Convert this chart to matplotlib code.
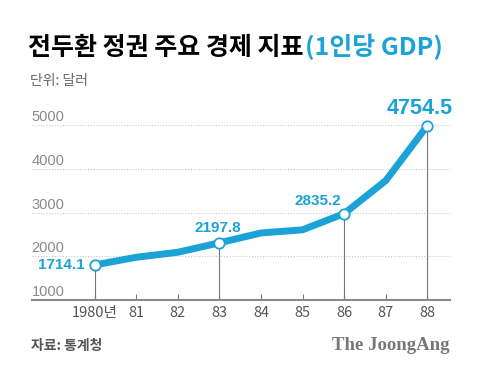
import matplotlib
matplotlib.use('Agg')
import matplotlib.pyplot as plt

# 1인당 GDP (달러), 1980-1988
years = ['1980년', '81', '82', '83', '84', '85', '86', '87', '88']
gdp = [1714.1, 1883.0, 1992.0, 2197.8, 2413.0, 2482.0, 2835.2, 3555.0, 4754.5]
labeled = [0, 3, 6, 8]          # points with a marker and a value label
ytick_labels = ['1000', '2000', '3000', '4000', '5000']
# the gridlines in the original graphic are not on their labelled values
ytick_pos = [950, 1910, 2855, 3810, 4770]

blue = '#1ba2d6'
kr = ['Noto Sans CJK KR', 'DejaVu Sans']
narrow = ['Liberation Sans Narrow', 'Liberation Sans', 'DejaVu Sans']

fig = plt.figure(figsize=(4.8, 3.72), dpi=100)
ax = fig.add_axes([32 / 480, 72 / 372, 418 / 480, 190 / 372])

x = list(range(len(years)))
ax.set_xlim(-1.507, 8.546)
ax.set_ylim(950, 5097)

for p in ytick_pos[1:]:
    ax.axhline(p, color='#c8c8c8', lw=0.8, ls=(0, (1, 1.5)), zorder=1)
for p, lbl in zip(ytick_pos, ytick_labels):
    ax.text(-1.52, p + 25, lbl, ha='left', va='bottom', fontsize=10.5,
            color='#8a8a8a', family=narrow)

# drop lines from the axis up to the labelled points
for i in labeled:
    ax.plot([x[i], x[i]], [950, gdp[i]], color='#777777', lw=0.8, zorder=2)

ax.plot(x, gdp, color=blue, lw=5, solid_capstyle='butt', zorder=3)
ax.plot([x[i] for i in labeled], [gdp[i] for i in labeled], 'o', ms=7.5,
        mfc='white', mec=blue, mew=1.3, zorder=4)

ax.text(x[0] - 0.23, gdp[0], '%.1f' % gdp[0], ha='right', va='center',
        fontsize=11, fontweight='bold', color=blue, family=narrow)
ax.text(x[3] - 0.05, gdp[3] + 170, '%.1f' % gdp[3], ha='center', va='bottom',
        fontsize=11, fontweight='bold', color=blue, family=narrow)
ax.text(x[6] - 0.06, gdp[6] + 120, '%.1f' % gdp[6], ha='right', va='bottom',
        fontsize=11, fontweight='bold', color=blue, family=narrow)
ax.text(x[8] - 0.18, gdp[8] + 150, '%.1f' % gdp[8], ha='center', va='bottom',
        fontsize=15.5, fontweight='bold', color=blue, family=narrow)

for s in ['top', 'right', 'left']:
    ax.spines[s].set_visible(False)
ax.spines['bottom'].set_color('#8a8a8a')
ax.spines['bottom'].set_linewidth(1.5)
ax.set_yticks([])
ax.set_xticks(x)
ax.set_xticklabels(years, family=kr, fontsize=10.5, color='#555555')
ax.tick_params(axis='x', direction='in', length=4, width=0.8, color='#777777', pad=4)

title = fig.text(28 / 480, 1 - 55 / 372, '전두환 정권 주요 경제 지표', fontsize=18,
                 fontweight='bold', color='black', family=kr, va='baseline')
fig.canvas.draw()
ax.annotate('(1인당 GDP)', xy=(1, 0), xycoords=title, xytext=(1, 0),
            textcoords='offset points', fontsize=18, fontweight='bold',
            color=blue, family=kr, va='bottom')

fig.text(30 / 480, 1 - 81 / 372, '단위: 달러', fontsize=10, color='#666666',
         family=kr, va='center')
fig.text(31 / 480, 1 - 346 / 372, '자료: 통계청', fontsize=10, color='#555555',
         fontweight='bold', family=kr, va='center')
fig.text(449 / 480, 1 - 346 / 372, 'The JoongAng', fontsize=13.5, color='#777777',
         fontweight='bold', family=['Liberation Serif', 'DejaVu Serif'],
         ha='right', va='center')

fig.savefig('out.png', dpi=100, facecolor='white')
